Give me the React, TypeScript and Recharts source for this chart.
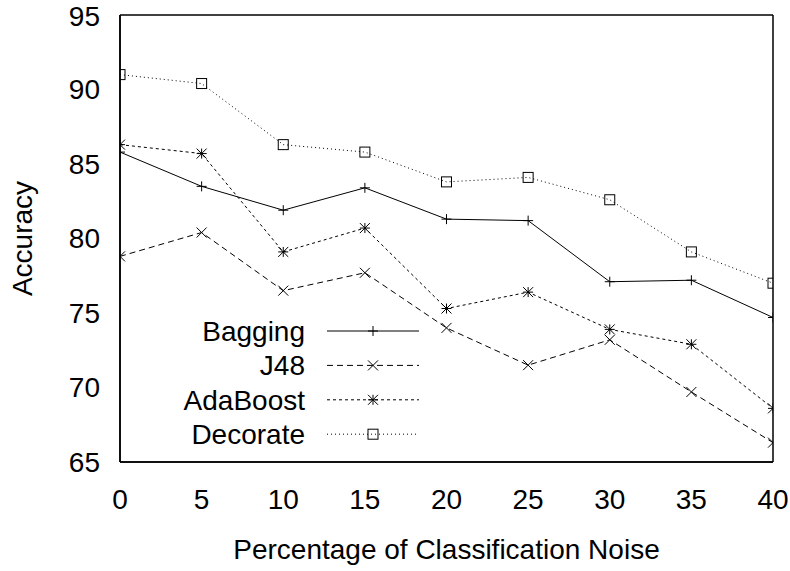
import React from "react";
import { LineChart, Line, XAxis, YAxis, Legend } from "recharts";

const noise = [0, 5, 10, 15, 20, 25, 30, 35, 40];
const bagging = [85.8, 83.5, 81.9, 83.4, 81.3, 81.2, 77.1, 77.2, 74.7];
const j48 = [78.8, 80.4, 76.5, 77.7, 74.0, 71.5, 73.2, 69.7, 66.3];
const adaboost = [86.3, 85.7, 79.1, 80.7, 75.3, 76.4, 73.9, 72.9, 68.6];
const decorate = [91.0, 90.4, 86.3, 85.8, 83.8, 84.1, 82.6, 79.1, 77.0];

const xTicks = [0, 5, 10, 15, 20, 25, 30, 35, 40];
const yTicks = [65, 70, 75, 80, 85, 90, 95];

const FONT = "'Liberation Sans', Arial, Helvetica, sans-serif";
const INK = "#000";

const series = [
  { key: "bagging", name: "Bagging", dash: undefined, shape: "plus" },
  { key: "j48", name: "J48", dash: "6 4", shape: "cross" },
  { key: "adaboost", name: "AdaBoost", dash: "3 3", shape: "star" },
  { key: "decorate", name: "Decorate", dash: "1 3", shape: "square" },
];

const data = noise.map((n, i) => ({
  noise: n,
  bagging: bagging[i],
  j48: j48[i],
  adaboost: adaboost[i],
  decorate: decorate[i],
}));

const Marker = ({ shape, cx, cy }: any) => {
  const s = 5;
  if (shape === "square") {
    return <rect x={cx - s} y={cy - s} width={2 * s} height={2 * s} fill="none" stroke={INK} strokeWidth={1} />;
  }
  const plus = (
    <>
      <line x1={cx - s} y1={cy} x2={cx + s} y2={cy} />
      <line x1={cx} y1={cy - s} x2={cx} y2={cy + s} />
    </>
  );
  const cross = (
    <>
      <line x1={cx - s} y1={cy - s} x2={cx + s} y2={cy + s} />
      <line x1={cx - s} y1={cy + s} x2={cx + s} y2={cy - s} />
    </>
  );
  return (
    <g stroke={INK} strokeWidth={1}>
      {shape !== "cross" && plus}
      {shape !== "plus" && cross}
    </g>
  );
};

const dotFor = (shape: string) => (props: any) =>
  <Marker key={`${shape}-${props.index}`} shape={shape} cx={props.cx} cy={props.cy} />;

const renderLegend = () => (
  <svg width={440} height={140} style={{ display: "block" }}>
    {series.map((s, i) => {
      const y = 21 + i * 34.4;
      return (
        <g key={s.key}>
          <text x={305} y={y} dy="0.36em" textAnchor="end" fontFamily={FONT} fontSize={28} fill={INK}>
            {s.name}
          </text>
          <line x1={327} y1={y} x2={419} y2={y} stroke={INK} strokeWidth={1} strokeDasharray={s.dash} />
          <Marker shape={s.shape} cx={373} cy={y} />
        </g>
      );
    })}
  </svg>
);

const YTitle = ({ viewBox }: any) => {
  const cx = viewBox.x + 22;
  const cy = viewBox.y + viewBox.height / 2;
  return (
    <text x={cx} y={cy} dy="0.35em" transform={`rotate(-90 ${cx} ${cy})`} textAnchor="middle"
      fontFamily={FONT} fontSize={28} fill={INK}>
      Accuracy
    </text>
  );
};

const tickStyle = { fontFamily: FONT, fontSize: 28, fill: INK };
const frame = { stroke: INK, strokeWidth: 1.5 };

const App = () => {
  return (
    <div style={{ position: "absolute", left: 0, top: 0, width: 790, height: 571, background: "#fff" }}>
      <LineChart width={790} height={571} data={data} margin={{ top: 15, right: 17, left: 0, bottom: 0 }}>
        <XAxis dataKey="noise" type="number" domain={[0, 40]} ticks={xTicks} allowDataOverflow
          height={109} tickSize={0} tickMargin={27} tickLine={false} axisLine={frame} tick={tickStyle}
          label={{ value: "Percentage of Classification Noise", position: "insideBottom", offset: 12,
            style: { fontFamily: FONT, fontSize: 28, fill: INK } }} />
        <XAxis xAxisId="bottomTicks" dataKey="noise" type="number" domain={[0, 40]} ticks={xTicks}
          allowDataOverflow orientation="bottom" mirror tick={false} tickSize={10} tickLine={frame} axisLine={frame} />
        <XAxis xAxisId="top" dataKey="noise" type="number" domain={[0, 40]} ticks={xTicks}
          allowDataOverflow orientation="top" mirror tick={false} tickSize={10} tickLine={frame} axisLine={frame} />
        <YAxis type="number" domain={[65, 95]} ticks={yTicks} allowDataOverflow width={120}
          tickSize={0} tickMargin={20} tickLine={false} axisLine={frame} tick={tickStyle}
          label={{ content: YTitle }} />
        <YAxis yAxisId="leftTicks" type="number" domain={[65, 95]} ticks={yTicks} allowDataOverflow
          orientation="left" mirror tick={false} tickSize={10} tickLine={frame} axisLine={frame} />
        <YAxis yAxisId="right" type="number" domain={[65, 95]} ticks={yTicks} allowDataOverflow
          orientation="right" mirror tick={false} tickSize={10} tickLine={frame} axisLine={frame} />
        {series.map((s) => (
          <Line key={s.key} dataKey={s.key} name={s.name} type="linear" stroke={INK} strokeWidth={1}
            strokeDasharray={s.dash} dot={dotFor(s.shape)} activeDot={false} isAnimationActive={false} />
        ))}
        <Legend content={renderLegend} layout="vertical" align="center" verticalAlign="middle"
          wrapperStyle={{ left: 0, top: 310, width: 440, height: 140 }} />
      </LineChart>
    </div>
  );
};

export default App;
